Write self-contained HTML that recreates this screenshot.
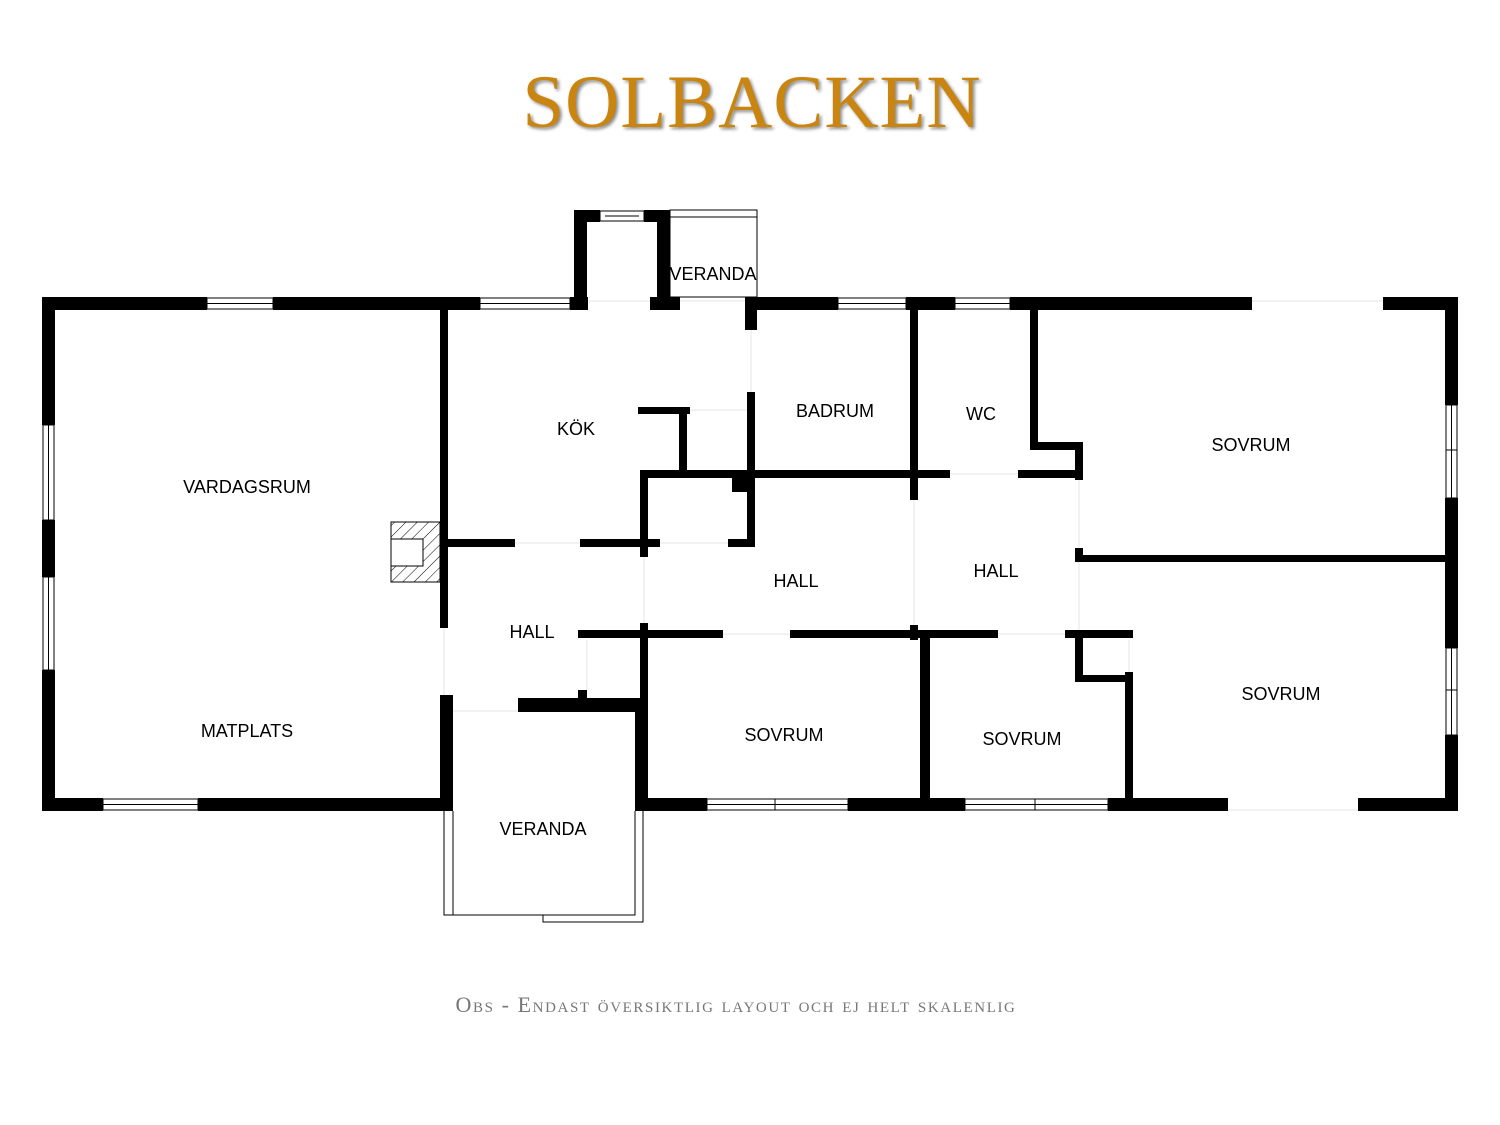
<!DOCTYPE html>
<html><head><meta charset="utf-8"><style>
body{margin:0;background:#fff;width:1500px;height:1125px;overflow:hidden}
svg{display:block}
.t{font-family:"Liberation Sans",sans-serif;font-size:18px;fill:#000;text-anchor:middle}
</style></head><body>
<svg width="1500" height="1125" viewBox="0 0 1500 1125">
<defs><pattern id="h" width="8" height="8" patternUnits="userSpaceOnUse" patternTransform="rotate(45)"><line x1="0" y1="0" x2="0" y2="8" stroke="#000" stroke-width="1"/></pattern></defs>
<text x="752" y="127" text-anchor="middle" font-family="Liberation Serif,serif" font-size="75" fill="#c98510" letter-spacing="1" style="text-shadow:2px 2px 3px #888">SOLBACKEN</text>
<text x="736" y="1012" text-anchor="middle" font-family="Liberation Serif,serif" font-size="22" fill="#777" letter-spacing="1.6" style="font-variant:small-caps">Obs - Endast översiktlig layout och ej helt skalenlig</text>
<g fill="#000">
<rect x="42" y="297" width="165" height="13"/><rect x="273" y="297" width="207" height="13"/>
<rect x="570" y="297" width="18" height="13"/><rect x="650" y="297" width="30" height="13"/>
<rect x="745" y="297" width="93" height="13"/><rect x="906" y="297" width="49" height="13"/>
<rect x="1010" y="297" width="242" height="13"/><rect x="1383" y="297" width="75" height="13"/>
<rect x="42" y="297" width="13" height="128"/><rect x="42" y="520" width="13" height="57"/><rect x="42" y="670" width="13" height="141"/>
<rect x="1445" y="297" width="13" height="108"/><rect x="1445" y="498" width="13" height="150"/><rect x="1445" y="735" width="13" height="76"/>
<rect x="42" y="798" width="61" height="13"/><rect x="198" y="798" width="255" height="13"/>
<rect x="635" y="798" width="72" height="13"/><rect x="848" y="798" width="117" height="13"/>
<rect x="1108" y="798" width="120" height="13"/><rect x="1358" y="798" width="100" height="13"/>
<rect x="574" y="210" width="13" height="100"/><rect x="574" y="210" width="26" height="12"/>
<rect x="644" y="210" width="26" height="12"/><rect x="657" y="210" width="13" height="95"/>
<rect x="440" y="310" width="8" height="318"/><rect x="440" y="695" width="13" height="110"/>
<rect x="447" y="539" width="68" height="8"/><rect x="580" y="539" width="80" height="8"/><rect x="728" y="539" width="27" height="8"/>
<rect x="640" y="472" width="8" height="85"/><rect x="640" y="623" width="8" height="180"/>
<rect x="578" y="630" width="145" height="8"/><rect x="790" y="630" width="208" height="8"/><rect x="1065" y="630" width="68" height="8"/>
<rect x="578" y="690" width="9" height="10"/>
<rect x="518" y="698" width="130" height="14"/><rect x="635" y="698" width="13" height="107"/>
<rect x="638" y="407" width="52" height="7"/><rect x="679" y="407" width="8" height="65"/>
<rect x="745" y="297" width="12" height="33"/><rect x="747" y="392" width="8" height="153"/>
<rect x="640" y="470" width="310" height="8"/><rect x="732" y="478" width="18" height="14"/>
<rect x="910" y="310" width="8" height="190"/><rect x="910" y="625" width="8" height="15"/>
<rect x="1018" y="470" width="65" height="8"/>
<rect x="1030" y="310" width="8" height="140"/><rect x="1030" y="442" width="53" height="8"/><rect x="1075" y="442" width="8" height="38"/>
<rect x="1075" y="548" width="8" height="14"/><rect x="1083" y="555" width="362" height="7"/>
<rect x="1075" y="630" width="8" height="52"/><rect x="1075" y="675" width="58" height="7"/><rect x="1125" y="672" width="8" height="130"/>
<rect x="920" y="638" width="10" height="162"/>
</g>
<g fill="none" stroke="#000" stroke-width="1">
<rect x="207" y="298" width="66" height="11"/><line x1="207" y1="303.5" x2="273" y2="303.5"/>
<rect x="480" y="298" width="90" height="11"/><line x1="480" y1="303.5" x2="570" y2="303.5"/>
<rect x="838" y="298" width="68" height="11"/><line x1="838" y1="303.5" x2="906" y2="303.5"/>
<rect x="955" y="298" width="55" height="11"/><line x1="955" y1="303.5" x2="1010" y2="303.5"/>
<rect x="600" y="211" width="44" height="10"/><line x1="605" y1="216" x2="639" y2="216"/>
<rect x="43" y="425" width="11" height="95"/><line x1="48.5" y1="425" x2="48.5" y2="520"/>
<rect x="43" y="577" width="11" height="93"/><line x1="48.5" y1="577" x2="48.5" y2="670"/>
<rect x="1446" y="405" width="11" height="93"/><line x1="1451.5" y1="405" x2="1451.5" y2="498"/><line x1="1446" y1="450" x2="1457" y2="450"/>
<rect x="1446" y="648" width="11" height="87"/><line x1="1451.5" y1="648" x2="1451.5" y2="735"/><line x1="1446" y1="690" x2="1457" y2="690"/>
<rect x="103" y="799" width="95" height="11"/><line x1="103" y1="804.5" x2="198" y2="804.5"/>
<rect x="707" y="799" width="141" height="11"/><line x1="707" y1="804.5" x2="848" y2="804.5"/><line x1="775" y1="799" x2="775" y2="810"/>
<rect x="965" y="799" width="143" height="11"/><line x1="965" y1="804.5" x2="1108" y2="804.5"/><line x1="1035" y1="799" x2="1035" y2="810"/>
<rect x="670" y="210" width="87" height="87"/><line x1="670" y1="217" x2="757" y2="217"/>
<path d="M444 811V915H635V811M453 811V915M643 811V922H543V915"/>
<rect x="391" y="522" width="49" height="60" fill="url(#h)"/>
<rect x="391" y="539" width="32" height="27" fill="#fff"/>
</g>
<g stroke="#e6e6e6" stroke-width="1" fill="none">
<path d="M588 301H650M680 301H745M1252 301H1383M1228 810H1358M751 330V392M690 410H747M515 543H580M660 543H728M644 557V623M914 500V625M950 474H1018M1079 480V548M1079 562V630M723 634H790M998 634H1065M1129 640V672M444 628V695M453 711H518M587 640V690"/>
</g>
<text class="t" x="713" y="280">VERANDA</text>
<text class="t" x="576" y="435">KÖK</text>
<text class="t" x="835" y="417">BADRUM</text>
<text class="t" x="981" y="420">WC</text>
<text class="t" x="1251" y="451">SOVRUM</text>
<text class="t" x="247" y="493">VARDAGSRUM</text>
<text class="t" x="796" y="587">HALL</text>
<text class="t" x="996" y="577">HALL</text>
<text class="t" x="532" y="638">HALL</text>
<text class="t" x="1281" y="700">SOVRUM</text>
<text class="t" x="247" y="737">MATPLATS</text>
<text class="t" x="784" y="741">SOVRUM</text>
<text class="t" x="1022" y="745">SOVRUM</text>
<text class="t" x="543" y="835">VERANDA</text>
</svg>
</body></html>
